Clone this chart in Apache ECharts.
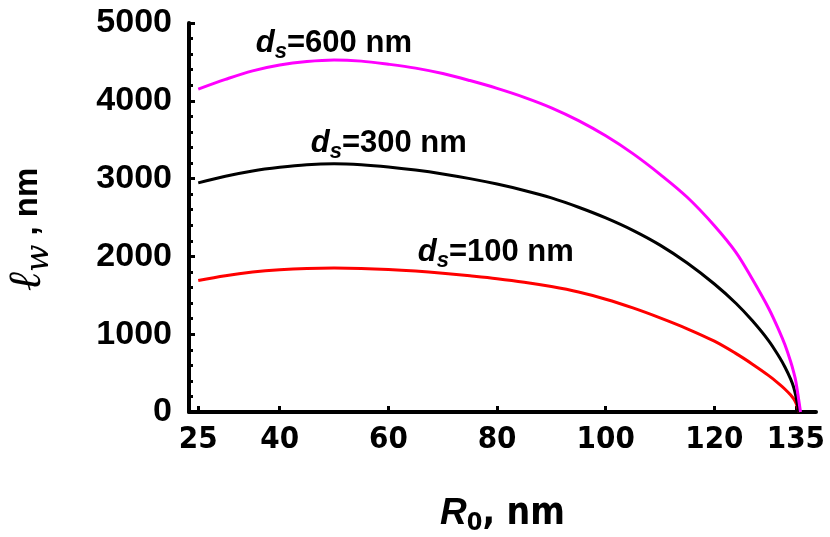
<!DOCTYPE html>
<html lang="en">
<head>
    <meta charset="UTF-8">
    <title>l_w vs R0</title>
    <script src="https://cdn.jsdelivr.net/npm/echarts@6/dist/echarts.min.js"></script>
    <style>
        html, body { margin: 0; padding: 0; background: #fff; }
        #chart { width: 830px; height: 537px; }
    </style>
</head>
<body>
    <div id="chart"></div>
    <script>
        // R0 grid, nm
        const r0 = [25, 30, 35, 40, 45, 50, 55, 60, 65, 70, 75, 80, 85, 90, 95, 100, 105, 110, 115, 120, 124, 127, 130, 132, 133, 134, 134.6, 135];
        // l_w, nm for each d_s
        const lw100 = [1690, 1752, 1798, 1828, 1845, 1850, 1846, 1833, 1812, 1784, 1750, 1713, 1668, 1612, 1542, 1450, 1338, 1210, 1070, 910, 750, 615, 468, 355, 292, 222, 168, 118];
        const lw300 = [2945, 3030, 3098, 3145, 3178, 3190, 3178, 3150, 3110, 3060, 3000, 2930, 2848, 2752, 2632, 2495, 2335, 2145, 1915, 1645, 1395, 1172, 915, 700, 575, 428, 315, 200];
        const lw600 = [4150, 4275, 4385, 4460, 4505, 4525, 4510, 4470, 4420, 4350, 4260, 4160, 4045, 3910, 3745, 3550, 3321, 3055, 2760, 2395, 2050, 1705, 1330, 1030, 860, 655, 510, 390];
        // where each curve reaches zero
        const rEnd = [135.6, 135.55, 135.85];
        const dsNames = ['100', '300', '600'];
        const xTicks = [25, 40, 60, 80, 100, 120, 135];

        const colors = ['#ff0000', '#000000', '#ff00ff'];
        const allSeries = [lw100, lw300, lw600];
        const narrow = 'Liberation Sans Narrow, DejaVu Sans Condensed, Liberation Sans';

        const chart = echarts.init(document.getElementById('chart'));

        const series = allSeries.map((vals, k) => ({
            name: 'ds=' + dsNames[k],
            type: 'line',
            showSymbol: false,
            smooth: 0.35,
            lineStyle: { color: colors[k], width: 3 },
            data: r0.map((r, i) => [r, vals[i]]).concat([[rEnd[k], 0]])
        }));

        const option = {
            animation: false,
            grid: { left: 189, right: 14, top: 23, bottom: 125, outerBoundsMode: 'none' },
            xAxis: {
                type: 'value',
                min: 23.3,
                max: 138.7,
                name: '{r|R}{z|0}{t|, nm}',
                nameLocation: 'middle',
                nameGap: 80,
                nameTextStyle: {
                    rich: {
                        r: { fontFamily: 'Liberation Sans', fontWeight: 'bold', fontStyle: 'italic', fontSize: 37, color: '#000', lineHeight: 44, verticalAlign: 'middle' },
                        z: { fontFamily: narrow, fontWeight: 'bold', fontSize: 25, color: '#000', lineHeight: 24, verticalAlign: 'bottom' },
                        t: { fontFamily: narrow, fontWeight: 'bold', fontSize: 37, color: '#000', lineHeight: 44, verticalAlign: 'middle' }
                    }
                },
                axisLine: { lineStyle: { color: '#000', width: 4 } },
                axisTick: { customValues: xTicks, inside: true, length: 6, lineStyle: { color: '#000', width: 3 } },
                axisLabel: {
                    customValues: xTicks,
                    margin: 12,
                    color: '#000',
                    fontFamily: narrow,
                    fontWeight: 'bold',
                    fontSize: 31
                },
                splitLine: { show: false }
            },
            yAxis: {
                type: 'value',
                min: 0,
                max: 5000,
                interval: 1000,
                name: '{l|ℓ}{w|w}{t| , nm}',
                nameLocation: 'middle',
                nameRotate: 90,
                nameGap: 133,
                nameTextStyle: {
                    padding: [0, 24, 0, 0],
                    rich: {
                        l: { fontFamily: 'DejaVu Serif', fontStyle: 'italic', fontSize: 46, color: '#000', lineHeight: 56, verticalAlign: 'middle' },
                        w: { fontFamily: 'DejaVu Serif', fontStyle: 'italic', fontSize: 32, color: '#000', lineHeight: 40, verticalAlign: 'bottom' },
                        t: { fontFamily: 'Liberation Sans', fontWeight: 'bold', fontSize: 33, color: '#000', lineHeight: 56, verticalAlign: 'middle' }
                    }
                },
                axisLine: { show: true, lineStyle: { color: '#000', width: 4 } },
                axisTick: { show: true, inside: true, length: 6, lineStyle: { color: '#000', width: 3 } },
                minorTick: { show: true, splitNumber: 5, length: 4, lineStyle: { color: '#000', width: 3 } },
                axisLabel: {
                    margin: 17,
                    color: '#000',
                    fontFamily: 'Liberation Sans',
                    fontWeight: 'bold',
                    fontSize: 34,
                    formatter: v => String(v)
                },
                splitLine: { show: false }
            },
            series: series
        };
        chart.setOption(option);

        // curve labels, anchored in data coordinates (left edge, vertical middle)
        const noteAnchors = [[65.4, 2057], [45.7, 3458], [35.6, 4743]];
        const noteRich = {
            d: { fontFamily: 'Liberation Sans', fontWeight: 'bold', fontStyle: 'italic', fontSize: 31, fill: '#000', lineHeight: 40, verticalAlign: 'middle' },
            s: { fontFamily: 'Liberation Sans', fontWeight: 'bold', fontStyle: 'italic', fontSize: 22, fill: '#000', lineHeight: 20, verticalAlign: 'bottom' },
            t: { fontFamily: 'Liberation Sans', fontWeight: 'bold', fontSize: 31, fill: '#000', lineHeight: 40, verticalAlign: 'middle' }
        };
        chart.setOption({
            graphic: noteAnchors.map((a, k) => {
                const p = chart.convertToPixel({ gridIndex: 0 }, a);
                return {
                    type: 'text',
                    x: p[0],
                    y: p[1],
                    style: {
                        text: '{d|d}{s|s}{t|=' + dsNames[k] + ' nm}',
                        rich: noteRich,
                        verticalAlign: 'middle'
                    }
                };
            })
        });
    </script>
</body>
</html>
